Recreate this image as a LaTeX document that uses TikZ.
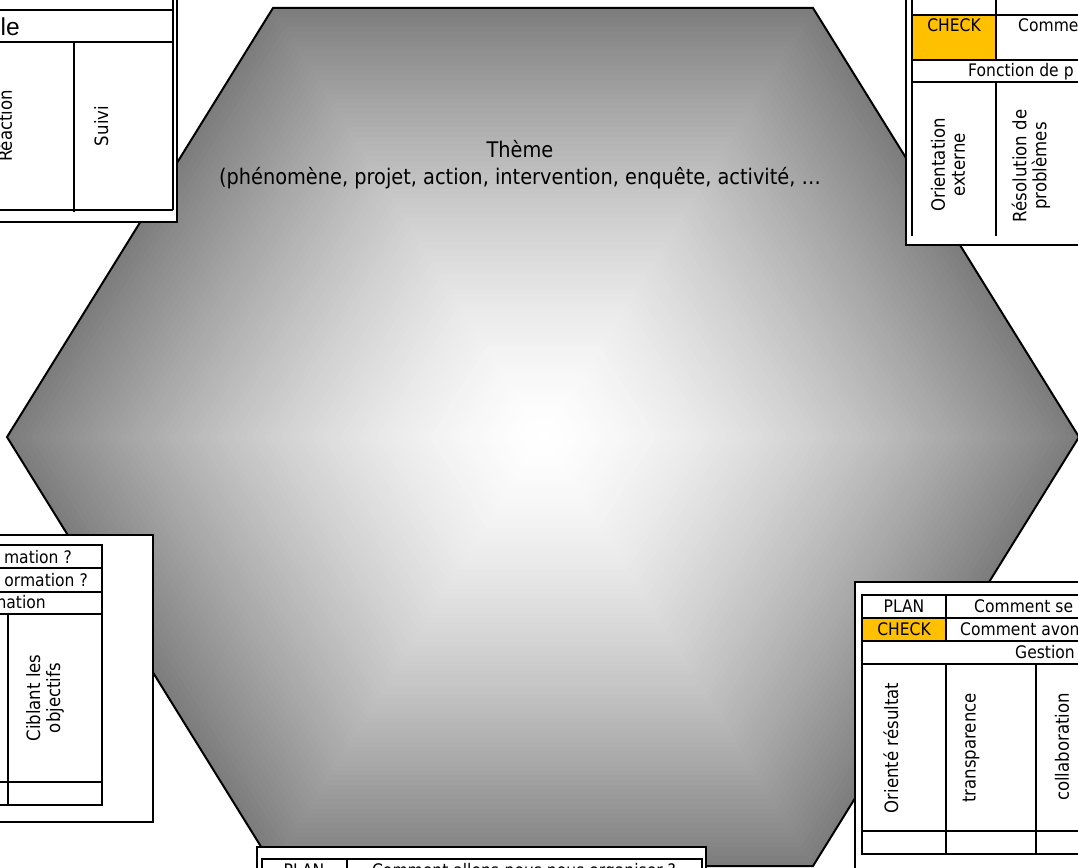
\documentclass[tikz,border=0pt]{standalone}
\usepackage{fontspec}
\setmainfont{DejaVu Sans}[FakeStretch=0.9]
\newfontfamily\arialfont{Liberation Sans}
\definecolor{chk}{HTML}{FFC000}
\tikzset{
  framebox/.style={fill=white,draw=black,line width=1.5pt},
  tline/.style={draw=black,line width=2pt},
  rowtxt/.style={inner sep=0pt,anchor=base,font=\fontsize{17.3}{20}\selectfont},
  rottxt/.style={rotate=90,align=center,inner sep=0pt,font=\fontsize{18.4}{20}\selectfont},
  hexline/.style={draw=black,line width=2pt,line join=miter},
}
\begin{document}
\begin{tikzpicture}[x=1pt,y=-1pt]
\useasboundingbox (0,0) rectangle (1078,867);
\clip (0,0) rectangle (1078,867);
% hexagon with path gradient
\foreach \i in {90,89,...,1}{
  \pgfmathsetmacro\s{\i/90}
  \pgfmathsetmacro\c{51*(\s)^1.5}
  \fill[black!\c] ({543-270*\s},{437-429*\s}) -- ({543+270*\s},{437-429*\s}) -- ({543+536*\s},437) -- ({543+270*\s},{437+429*\s}) -- ({543-270*\s},{437+429*\s}) -- ({543-536*\s},437) -- cycle;
}
\draw[hexline] (273,8) -- (813,8) -- (1079,437) -- (813,866) -- (273,866) -- (7,437) -- cycle;
\node[align=center,inner sep=0pt,font=\fontsize{21.5}{27}\selectfont] (theme) at (520,165)
  {Thème\\(phénomène, projet, action, intervention, enquête, activité, …};

% ---- top-left box
\draw[framebox] (-5,-5) rectangle (177,222);
\draw[tline] (-5,10) -- (173,10);
\draw[tline] (-5,42) -- (173,42);
\draw[tline] (-5,210) -- (173,210);
\draw[tline] (173,-5) -- (173,210);
\draw[tline] (74,42) -- (74,212);
\node[inner sep=0pt,anchor=base east,font=\arialfont\fontsize{24.5}{28}\selectfont] (tltitle) at (20,36) {le};
\node[rottxt,anchor=base] (reac) at (12,126) {Réaction};
\node[rottxt,anchor=base] (suivi) at (108,126) {Suivi};

% ---- top-right box
\draw[framebox] (906,-5) rectangle (1085,245);
\fill[chk] (912,15) rectangle (996,60);
\draw[tline] (912,-5) -- (912,236);
\draw[tline] (912,15) -- (1085,15);
\draw[tline] (912,60) -- (1085,60);
\draw[tline] (912,82) -- (1085,82);
\draw[tline] (996,-5) -- (996,60);
\draw[tline] (996,82) -- (996,236);
\node[rowtxt] (trcheck) at (954,32) {CHECK};
\node[rowtxt,anchor=base west] (trcomm) at (1018,32) {Comment};
\node[rowtxt,anchor=base west] (trfonc) at (968,77) {Fonction de p};
\node[rottxt] (orext) at (948,165) {Orientation\\externe};
\node[rottxt] (resol) at (1031,166) {Résolution de\\problèmes};

% ---- bottom-left box
\draw[framebox] (-5,535) rectangle (153,822);
\draw[tline] (-5,545) rectangle (102,805);
\draw[tline] (-5,568) -- (102,568);
\draw[tline] (-5,592) -- (102,592);
\draw[tline] (-5,614) -- (102,614);
\draw[tline] (-5,782) -- (102,782);
\draw[tline] (8,614) -- (8,805);
\node[rowtxt,anchor=base east] (bl1) at (72,563) {mation ?};
\node[rowtxt,anchor=base east] (bl2) at (88,586) {ormation ?};
\node[rowtxt,anchor=base east] (bl3) at (46,608) {nation};
\node[rottxt] (cibl) at (45,698) {Ciblant les\\objectifs};

% ---- bottom-right box
\draw[framebox] (855,582) rectangle (1085,875);
\fill[chk] (862,618) rectangle (946,641);
\draw[tline] (862,595) rectangle (1085,854);
\draw[tline] (862,618) -- (1085,618);
\draw[tline] (862,641) -- (1085,641);
\draw[tline] (862,664) -- (1085,664);
\draw[tline] (862,831) -- (1085,831);
\draw[tline] (946,595) -- (946,641);
\draw[tline] (946,664) -- (946,854);
\draw[tline] (1036,664) -- (1036,854);
\node[rowtxt] (brplan) at (904,612) {PLAN};
\node[rowtxt] (brcheck) at (904,635) {CHECK};
\node[rowtxt,anchor=base west] (brc1) at (974,612) {Comment se};
\node[rowtxt,anchor=base west] (brc2) at (960,635) {Comment avons};
\node[rowtxt,anchor=base west] (brg) at (1015,658) {Gestion};
\node[rottxt] (orres) at (891,748) {Orienté résultat};
\node[rottxt] (transp) at (971,748) {transparence};
\node[rottxt] (collab) at (1062,747) {collaboration};

% ---- bottom-middle box
\draw[framebox] (257,847) rectangle (706,880);
\draw[tline] (262,859) rectangle (702,885);
\draw[tline] (347,859) -- (347,885);
\node[rowtxt] (bmplan) at (304,876) {PLAN};
\node[rowtxt] (bmcomm) at (524,876) {Comment allons-nous nous organiser ?};
\end{tikzpicture}
\end{document}
